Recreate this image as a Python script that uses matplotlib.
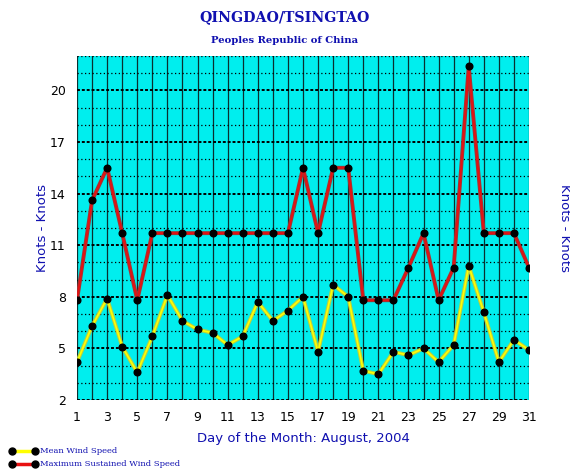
import matplotlib.pyplot as plt
import numpy as np
from matplotlib.lines import Line2D

days = list(range(1, 32))
mean_wind = [4.2, 6.3, 7.9, 5.1, 3.6, 5.7, 8.1, 6.6, 6.1, 5.9,
             5.2, 5.7, 7.7, 6.6, 7.2, 8.0, 4.8, 8.7, 8.0, 3.7,
             3.5, 4.8, 4.6, 5.0, 4.2, 5.2, 9.8, 7.1, 4.2, 5.5, 4.9]
max_wind = [7.8, 13.6, 15.5, 11.7, 7.8, 11.7, 11.7, 11.7, 11.7, 11.7,
            11.7, 11.7, 11.7, 11.7, 11.7, 15.5, 11.7, 15.5, 15.5, 7.8,
            7.8, 7.8, 9.7, 11.7, 7.8, 9.7, 21.4, 11.7, 11.7, 11.7, 9.7]
y_ticks = [2, 5, 8, 11, 14, 17, 20]
x_ticks = list(range(1, 32, 2))

blue = '#1010b0'
fig = plt.figure(figsize=(5.7, 4.76), dpi=100)
ax = fig.add_axes([0.1351, 0.1597, 0.7930, 0.7227])
ax.set_facecolor('#00eeee')

ax.set_xlim(1, 31)
ax.set_ylim(2, 22)

# grid: every day vertical, every knot horizontal
for d in days:
    ax.axvline(d, color='#0a3030', lw=0.9, zorder=1)
for k in range(2, 23):
    major = (k - 2) % 3 == 0
    ax.axhline(k, color='black', lw=1.4 if major else 0.9,
               ls=(0, (1.5, 1)) if major else (0, (1, 2)), zorder=1)

ax.plot(days, max_wind, color='#a83030', lw=2.8, zorder=3)
ax.plot(days, max_wind, color='#e81010', lw=1.2, zorder=3)
ax.plot(days, max_wind, 'o', color='black', ms=4.8, zorder=4)

ax.plot(days, mean_wind, color='#b8d040', lw=2.8, zorder=3)
ax.plot(days, mean_wind, color='#ffff00', lw=1.2, zorder=3)
ax.plot(days, mean_wind, 'o', color='black', ms=4.8, zorder=4)

ax.set_xticks(x_ticks)
ax.set_yticks(y_ticks)
ax.tick_params(length=0, labelsize=9, pad=8, labelright=True)
for s in ax.spines.values():
    s.set_visible(False)

ax.set_xlabel('Day of the Month: August, 2004', color=blue, fontsize=9.5, labelpad=6)
ax.set_ylabel('Knots - Knots', color=blue, fontsize=9.5, labelpad=1)
ax2 = ax.twinx()
ax2.set_ylim(2, 22)
ax2.set_yticks([])
for s in ax2.spines.values():
    s.set_visible(False)
ax2.set_ylabel('Knots - Knots', color=blue, fontsize=9.5, rotation=270, labelpad=30)

fig.text(0.5, 0.963, 'QINGDAO/TSINGTAO', ha='center', va='center',
         family='DejaVu Serif', weight='bold', fontsize=10.2, color=blue)
fig.text(0.5, 0.915, 'Peoples Republic of China', ha='center', va='center',
         family='DejaVu Serif', weight='bold', fontsize=7.2, color=blue)

# legend at bottom left
for yy, col, label in [(451, '#ffff00', 'Mean Wind Speed'),
                       (464, '#e81010', 'Maximum Sustained Wind Speed')]:
    yf = 1 - yy / 476
    fig.add_artist(Line2D([12 / 570, 35 / 570], [yf, yf], color=col, lw=2.5,
                          marker='o', mfc='black', mec='black', ms=5))
    fig.text(40 / 570, yf, label, ha='left', va='center', family='DejaVu Serif',
             fontsize=6, color=blue)

fig.savefig('out.png', dpi=100)
